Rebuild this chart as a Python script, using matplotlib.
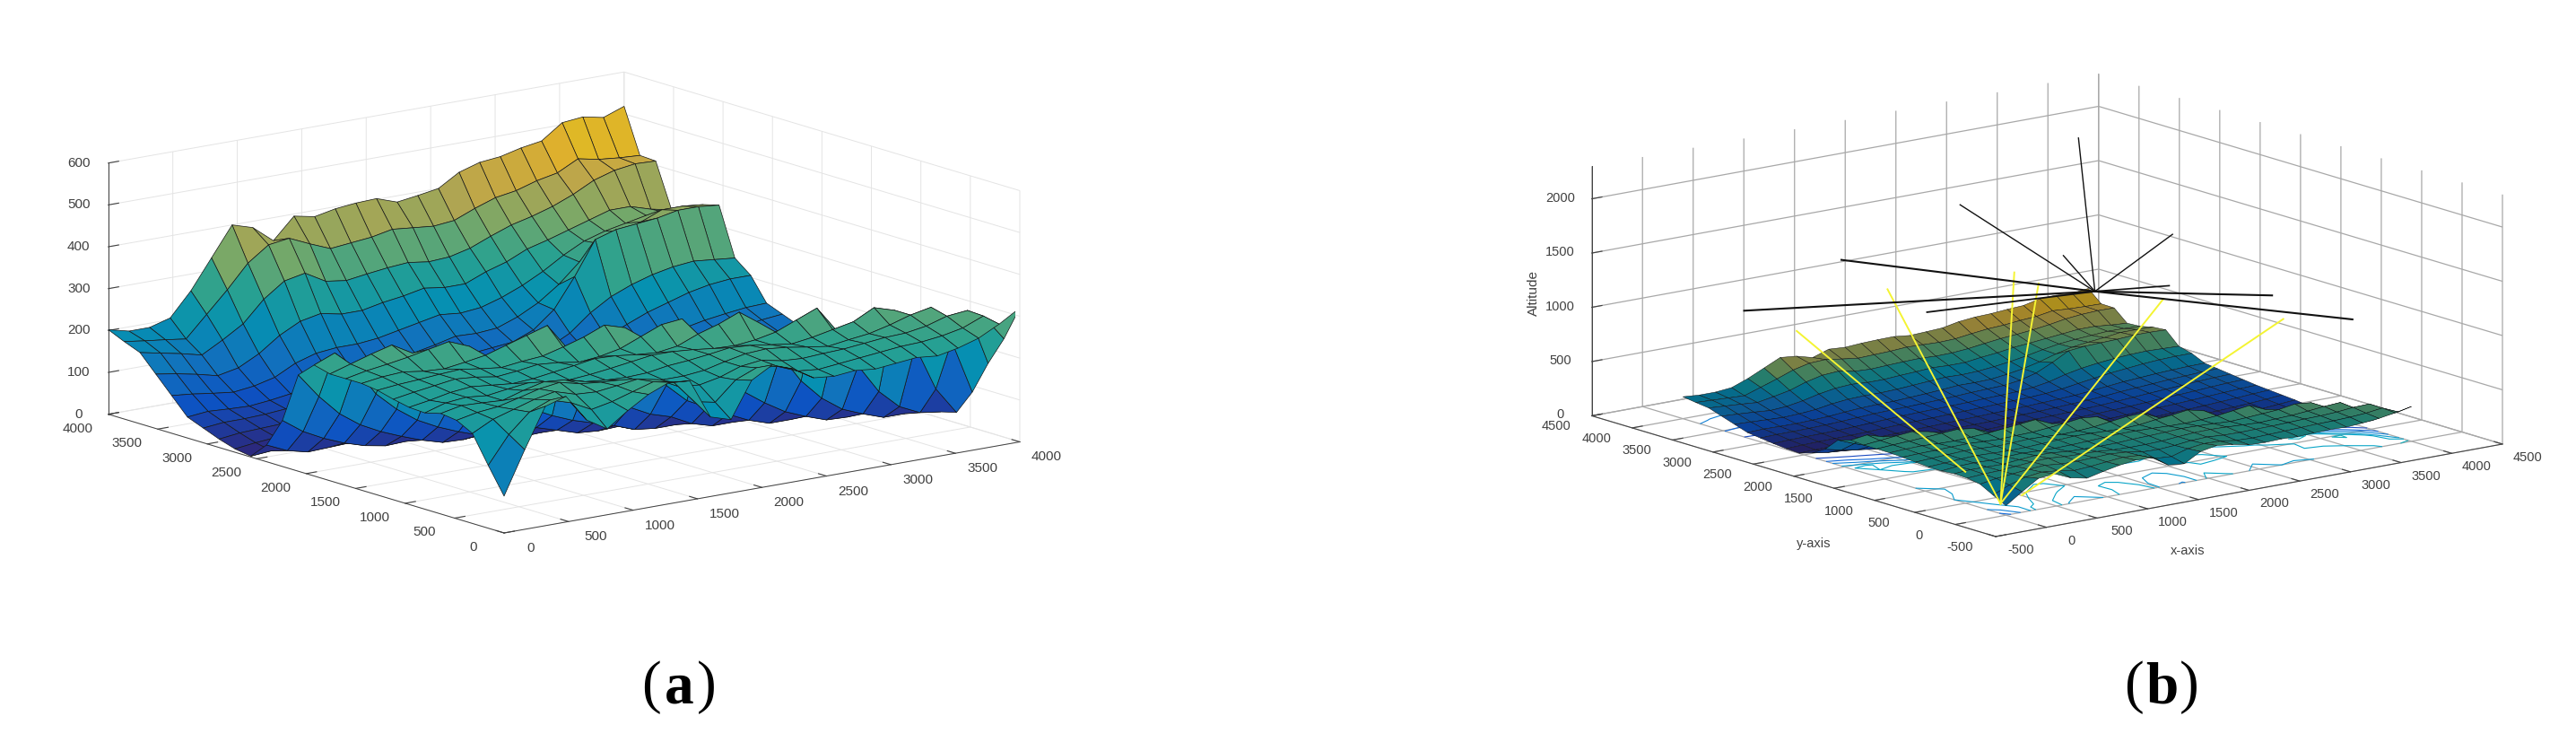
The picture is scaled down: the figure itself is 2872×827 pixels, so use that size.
import numpy as np
import matplotlib
matplotlib.use('Agg')
import matplotlib.pyplot as plt
from matplotlib.colors import LinearSegmentedColormap, to_rgb
from mpl_toolkits.mplot3d import proj3d

W, H = 2872, 828

# terrain heights, one row per y, one column per x
x_grid = [0, 160, 320, 480, 640, 800, 960, 1120, 1280, 1440, 1600, 1760, 1920,
          2080, 2240, 2400, 2560, 2720, 2880, 3040, 3200, 3360, 3520, 3680, 3840, 4000]
y_grid = x_grid
heights = [
    [88, 190, 285, 300, 235, 205, 240, 270, 290, 285, 190, 175, 260, 288, 270, 240, 235, 240, 235, 240, 245, 240, 250, 265, 290, 320],
    [150, 215, 260, 280, 265, 240, 250, 265, 280, 270, 215, 205, 250, 270, 265, 245, 240, 245, 250, 255, 260, 262, 268, 278, 298, 235],
    [215, 240, 255, 270, 280, 265, 262, 268, 275, 265, 240, 235, 245, 262, 268, 258, 255, 258, 260, 265, 270, 272, 280, 295, 300, 165],
    [235, 245, 250, 262, 275, 282, 270, 265, 262, 250, 245, 245, 250, 262, 272, 275, 270, 262, 255, 262, 268, 280, 295, 305, 215, 85],
    [240, 250, 248, 245, 260, 272, 268, 255, 250, 248, 250, 258, 262, 268, 275, 272, 265, 258, 265, 275, 285, 310, 295, 200, 90, 25],
    [230, 245, 250, 245, 252, 258, 250, 248, 252, 258, 265, 272, 272, 268, 262, 260, 265, 275, 295, 315, 250, 160, 90, 45, 22, 15],
    [232, 240, 250, 255, 250, 245, 248, 255, 262, 270, 268, 262, 258, 265, 285, 300, 320, 285, 200, 130, 80, 45, 25, 8, 8, 20],
    [240, 248, 255, 262, 258, 250, 255, 262, 258, 250, 255, 265, 285, 305, 310, 240, 160, 110, 75, 45, 25, 8, 6, 12, 22, 30],
    [250, 255, 258, 262, 265, 258, 252, 258, 262, 275, 290, 310, 295, 215, 140, 95, 70, 45, 22, 6, 6, 10, 18, 28, 38, 45],
    [255, 262, 265, 258, 255, 262, 270, 285, 300, 315, 250, 170, 115, 85, 60, 45, 20, 6, 6, 8, 14, 20, 28, 36, 48, 60],
    [255, 265, 272, 280, 290, 300, 280, 215, 150, 105, 80, 60, 45, 30, 12, 6, 6, 10, 14, 20, 26, 32, 40, 48, 58, 70],
    [255, 270, 285, 298, 270, 200, 145, 105, 80, 60, 40, 25, 10, 6, 8, 12, 16, 20, 26, 32, 38, 46, 54, 62, 72, 80],
    [265, 285, 240, 170, 125, 90, 65, 45, 28, 12, 6, 8, 12, 16, 20, 24, 28, 34, 40, 46, 52, 60, 68, 76, 84, 90],
    [230, 170, 120, 85, 60, 40, 22, 8, 6, 10, 14, 18, 22, 26, 30, 34, 38, 44, 50, 58, 66, 74, 82, 92, 100, 105],
    [110, 75, 50, 30, 15, 6, 8, 10, 14, 18, 20, 24, 28, 32, 36, 40, 46, 52, 60, 70, 80, 90, 98, 108, 115, 120],
    [40, 18, 6, 8, 10, 12, 15, 18, 22, 25, 28, 30, 34, 38, 42, 48, 55, 62, 72, 85, 95, 105, 115, 122, 130, 135],
    [2, 6, 10, 12, 14, 16, 20, 24, 28, 32, 36, 40, 44, 48, 52, 58, 64, 72, 85, 100, 115, 125, 135, 142, 148, 150],
    [8, 14, 18, 20, 22, 26, 32, 38, 42, 46, 50, 54, 58, 62, 68, 72, 80, 95, 118, 140, 160, 175, 190, 200, 205, 205],
    [20, 26, 28, 30, 32, 38, 45, 52, 58, 62, 65, 68, 72, 78, 82, 88, 100, 125, 165, 195, 215, 230, 240, 245, 240, 235],
    [35, 40, 40, 42, 46, 52, 60, 68, 72, 75, 80, 85, 92, 100, 105, 110, 130, 170, 240, 320, 335, 340, 345, 355, 355, 350],
    [50, 55, 52, 50, 55, 62, 75, 85, 90, 92, 100, 108, 118, 130, 128, 132, 150, 175, 210, 255, 290, 310, 325, 345, 345, 340],
    [90, 85, 78, 72, 78, 90, 115, 130, 135, 135, 140, 150, 160, 170, 165, 170, 185, 205, 230, 260, 285, 300, 310, 320, 318, 312],
    [130, 122, 112, 100, 110, 135, 170, 195, 205, 195, 195, 205, 212, 222, 215, 215, 235, 250, 272, 285, 300, 315, 330, 330, 315, 305],
    [170, 160, 150, 138, 165, 195, 245, 280, 290, 262, 255, 262, 268, 272, 265, 268, 280, 300, 318, 330, 345, 365, 390, 405, 412, 410],
    [185, 178, 172, 165, 215, 265, 320, 355, 362, 340, 320, 325, 330, 340, 335, 330, 335, 355, 372, 380, 395, 405, 430, 420, 415, 412],
    [202, 190, 190, 204, 260, 330, 400, 385, 345, 395, 385, 395, 400, 402, 385, 392, 400, 430, 445, 450, 462, 470, 505, 510, 500, 518],
]

a_ticks_xy = [0, 500, 1000, 1500, 2000, 2500, 3000, 3500, 4000]
a_ticks_z = [0, 100, 200, 300, 400, 500, 600]
b_ticks_xy = [-500, 0, 500, 1000, 1500, 2000, 2500, 3000, 3500, 4000, 4500]
b_ticks_z = [0, 500, 1000, 1500, 2000]

# sight lines of panel (b)
yellow_hub = (-30, 30, 105)
yellow_ends = [(425, 2000, 1565), (879, 1000, 1865), (1119, 1000, 1722), (1953, 500, 1551)]
yellow_cut = [((63, 582, 260), (326, 3000, 975)), ((156, 0, 157), (2736, 0, 1342))]
black_hub = (4065, 4000, 480)
black_ends = [(3903, 4000, 1921), (2735, 4000, 1505), (4034, 3000, 1234), (3754, 4000, 863),
              (767, 3000, 1555), (4001, 3000, 766), (206, 3500, 1071), (3024, 500, 1399),
              (1612, 3000, 929), (3817, 500, 1043)]
black_widths = [1.0, 1.0, 1.0, 1.0, 1.5, 1.2, 1.5, 1.5, 1.3, 1.5]
contour_levels = [60, 120, 180, 240, 270, 300]

parula_stops = ['#352A87', '#0F5CDD', '#1481D6', '#06A4CA', '#2EB7A4', '#87BF77', '#D1BB59', '#FEC832', '#F9FB0E']
parula = LinearSegmentedColormap.from_list('parula', parula_stops)
muted = LinearSegmentedColormap.from_list('muted', [tuple(c * 0.88 for c in to_rgb(s)) for s in parula_stops])
dark = LinearSegmentedColormap.from_list('dark', [tuple(c * 0.68 for c in to_rgb(s)) for s in parula_stops])
text_col = '#404040'

X, Y = np.meshgrid(x_grid, y_grid)
Z = np.array(heights, dtype=float)

fig = plt.figure(figsize=(W / 100, H / 100), dpi=100, facecolor='white')
plt.rcParams['font.family'] = ['Liberation Sans', 'DejaVu Sans']


def place_box(ax, p1, p2, px1, px2):
    # move the axes so two box corners land on given pixels of the picture
    M = ax.get_proj()
    pts = []
    for p in (p1, p2):
        u, v, _ = proj3d.proj_transform(p[0], p[1], p[2], M)
        pts.append(ax.transLimits.transform((u, v)))
    (a1, b1), (a2, b2) = pts
    size = (px2[0] - px1[0]) / (a2 - a1)
    left = px1[0] - size * a1
    bottom = (H - px1[1]) - size * b1
    ax.set_position([left / W, bottom / H, size / W, size / H])


def tick_text(ax, p, label, dx, dy, size=11):
    u, v, _ = proj3d.proj_transform(p[0], p[1], p[2], ax.get_proj())
    ax.annotate(label, (u, v), xytext=(dx, -dy), textcoords='offset pixels', ha='center',
                va='center', fontsize=size, color=text_col, annotation_clip=False)


def style_axes(ax, grid_col, grid_lw, tick_len):
    ax.patch.set_alpha(0)
    for axis in (ax.xaxis, ax.yaxis, ax.zaxis):
        axis.set_pane_color((1, 1, 1, 0))
        axis.pane.set_edgecolor((1, 1, 1, 0))
        axis.line.set_color(text_col)
        axis.line.set_linewidth(0.7)
        axis._axinfo['grid'].update(color=grid_col, linewidth=grid_lw)
        axis._axinfo['tick'].update(inward_factor=0, outward_factor=tick_len)
        axis.set_tick_params(color=text_col, width=0.7, labelsize=1, labelcolor=(1, 1, 1, 0))


# panel a
ax1 = fig.add_axes([0.03, 0.1, 0.3, 0.8], projection='3d', proj_type='ortho')
ax1.view_init(elev=13.3, azim=-127.5, roll=0)
ax1.set_box_aspect((1, 1, 0.397))
ax1.set_xlim(0, 4000)
ax1.set_ylim(0, 4000)
ax1.set_zlim(0, 600)
ax1.set_xticks(a_ticks_xy)
ax1.set_yticks(a_ticks_xy)
ax1.set_zticks(a_ticks_z)
style_axes(ax1, '#e4e4e4', 0.7, 0.25)
ax1.plot_surface(X, Y, Z, cmap=muted, vmin=0, vmax=520, rstride=1, cstride=1,
                 edgecolor='#161616', linewidth=0.5, shade=False)
place_box(ax1, (0, 0, 0), (4000, 0, 0), (562, 595), (1137, 495))
for t in a_ticks_xy:
    tick_text(ax1, (t, 0, 0), str(t), 30, 16)
    tick_text(ax1, (0, t, 0), str(t), -34, 15)
for t in a_ticks_z:
    tick_text(ax1, (0, 4000, t), str(t), -33, -1)

# panel b
ax2 = fig.add_axes([0.55, 0.1, 0.3, 0.8], projection='3d', proj_type='ortho', computed_zorder=False)
ax2.view_init(elev=13.5, azim=-128, roll=0)
ax2.set_box_aspect((1, 1.02, 0.399))
ax2.set_xlim(-500, 4500)
ax2.set_ylim(-500, 4500)
ax2.set_zlim(0, 2300)
ax2.set_xticks(b_ticks_xy)
ax2.set_yticks(b_ticks_xy)
ax2.set_zticks(b_ticks_z)
style_axes(ax2, '#a8a8a8', 0.9, 0.25)
ax2.contour(X, Y, Z, levels=contour_levels, zdir='z', offset=0, cmap=parula, vmin=0, vmax=700,
            linewidths=0.8, zorder=1)
ax2.plot_surface(X, Y, Z, cmap=dark, vmin=0, vmax=520, rstride=1, cstride=1,
                 edgecolor='#101010', linewidth=0.35, shade=False, zorder=2)
for end in yellow_ends:
    ax2.plot(*zip(yellow_hub, end), color='#f4f432', lw=1.4, zorder=3)
for a, b in yellow_cut:
    ax2.plot(*zip(a, b), color='#f4f432', lw=1.4, zorder=3)
for end, lw in zip(black_ends, black_widths):
    ax2.plot(*zip(black_hub, end), color='#111111', lw=lw, zorder=4)
place_box(ax2, (-500, -500, 0), (4500, -500, 0), (2225, 599), (2790, 495))
for t in b_ticks_xy:
    tick_text(ax2, (t, -500, 0), str(t), 28, 14, 10.5)
    tick_text(ax2, (-500, t, 0), str(t), -40, 11, 10.5)
for t in b_ticks_z:
    tick_text(ax2, (-500, 4500, t), str(t), -35, -2, 10.5)

fig.text(1710 / W, 1 - 327 / H, 'Altitude', rotation=90, ha='center', va='center', fontsize=11, color=text_col)
fig.text(2022 / W, 1 - 606 / H, 'y-axis', ha='center', va='center', fontsize=10.5, color=text_col)
fig.text(2439 / W, 1 - 614 / H, 'x-axis', ha='center', va='center', fontsize=10.5, color=text_col)

# captions
for cx, letter in ((757, 'a'), (2410, 'b')):
    fig.text((cx - 31) / W, 1 - 766 / H, '(', ha='center', va='center', fontsize=47, family='Liberation Serif')
    fig.text(cx / W, 1 - 768 / H, letter, ha='center', va='center', fontsize=47, family='Liberation Serif', fontweight='bold')
    fig.text((cx + 31) / W, 1 - 766 / H, ')', ha='center', va='center', fontsize=47, family='Liberation Serif')

fig.savefig('out.png', dpi=100)
